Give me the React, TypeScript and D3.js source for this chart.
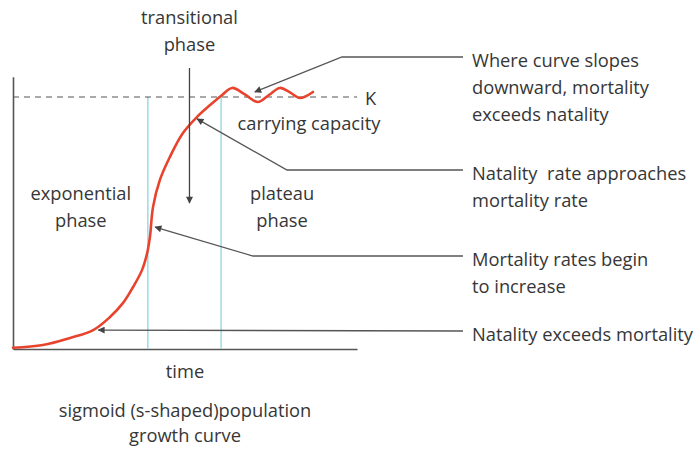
import React, { useEffect, useRef } from 'react';
import * as d3 from 'd3';

// population curve: time (0-100) vs population (% of K)
const curveTime = [0, 8.7, 16.6, 23.3, 28.2, 32.0, 34.9, 37.5, 39.0, 39.8, 40.7, 42.7, 45.6, 49.4, 53.5, 57.3, 60.8, 63.7, 67.4, 71.2, 74.4, 77.6, 80.5, 83.4, 87.2];
const curvePop = [0.5, 1.6, 4.4, 7.5, 12.7, 18.3, 24.6, 31.3, 38.1, 44.4, 56.3, 67.1, 76.2, 85.7, 92.1, 96.8, 100.8, 103.6, 101.0, 98.0, 100.8, 103.6, 101.8, 99.6, 102.0];
const carryingCapacity = 100;
const phaseBounds = [39.2, 60.5];
const transitionT = 51.3;

const phaseLabels = [
  { t: 20, lines: ['exponential', 'phase'] },
  { t: 78.5, lines: ['plateau', 'phase'] },
];

// callouts on the right, pointing at the curve
const calloutText = [
  ['Where curve slopes', 'downward, mortality', 'exceeds natality'],
  ['Natality  rate approaches', 'mortality rate'],
  ['Mortality rates begin', 'to increase'],
  ['Natality exceeds mortality'],
];
const calloutTargetT = [70.3, 53.5, 41.3, 24.8];
const calloutTargetN = [102, 91.3, 48.4, 7.5];

const W = 700;
const H = 449;
const FONT = '"Open Sans", sans-serif';
const TEXT = '#363636';

export default function App() {
  const ref = useRef<SVGSVGElement>(null);

  useEffect(() => {
    const svg = d3.select(ref.current);
    svg.selectAll('*').remove();

    const x = d3.scaleLinear().domain([0, 100]).range([13, 357]);
    const y = d3.scaleLinear().domain([0, carryingCapacity]).range([349, 97]);

    const defs = svg.append('defs');
    defs
      .append('marker')
      .attr('id', 'arr')
      .attr('viewBox', '0 0 10 10')
      .attr('refX', 9)
      .attr('refY', 5)
      .attr('markerWidth', 11)
      .attr('markerHeight', 7)
      .attr('markerUnits', 'userSpaceOnUse')
      .attr('orient', 'auto')
      .append('path')
      .attr('d', 'M0,0L10,5L0,10z')
      .attr('fill', '#444');

    // axes, no ticks
    svg
      .append('g')
      .attr('transform', `translate(0,${y(0)})`)
      .call(d3.axisBottom(x).tickValues([]).tickSizeOuter(0))
      .select('.domain')
      .attr('stroke', '#555')
      .attr('stroke-width', 1.6);
    svg
      .append('g')
      .attr('transform', `translate(${x(0)},0)`)
      .call(
        d3
          .axisLeft(d3.scaleLinear().domain([0, 108]).range([y(0), y(108)]))
          .tickValues([])
          .tickSizeOuter(0)
      )
      .select('.domain')
      .attr('stroke', '#555')
      .attr('stroke-width', 1.6);

    // phase boundaries
    svg
      .selectAll('.bound')
      .data(phaseBounds)
      .enter()
      .append('line')
      .attr('x1', d => x(d))
      .attr('x2', d => x(d))
      .attr('y1', y(carryingCapacity))
      .attr('y2', y(0))
      .attr('stroke', '#92d9e6')
      .attr('stroke-width', 1.4);

    // carrying capacity
    svg
      .append('line')
      .attr('x1', x(0))
      .attr('x2', x(100))
      .attr('y1', y(carryingCapacity))
      .attr('y2', y(carryingCapacity))
      .attr('stroke', '#555')
      .attr('stroke-width', 1.2)
      .attr('stroke-dasharray', '6,5');
    svg
      .append('text')
      .attr('x', x(100) + 8)
      .attr('y', y(carryingCapacity) + 8)
      .text('K');
    svg
      .append('text')
      .attr('x', 309)
      .attr('y', 130)
      .attr('text-anchor', 'middle')
      .text('carrying capacity');

    // the curve
    const pts = curveTime.map((t, i) => [t, curvePop[i]] as [number, number]);
    svg
      .append('path')
      .datum(pts)
      .attr('fill', 'none')
      .attr('stroke', '#e8432c')
      .attr('stroke-width', 2.6)
      .attr('stroke-linecap', 'round')
      .attr(
        'd',
        d3
          .line()
          .x(d => x(d[0]))
          .y(d => y(d[1]))
          .curve(d3.curveCatmullRom.alpha(0.5))
      );

    // phase labels
    phaseLabels.forEach(p => {
      p.lines.forEach((s, i) => {
        svg
          .append('text')
          .attr('x', x(p.t) - 1)
          .attr('y', 200 + i * 27)
          .attr('text-anchor', 'middle')
          .text(s);
      });
    });

    // transitional phase arrow
    ['transitional', 'phase'].forEach((s, i) => {
      svg
        .append('text')
        .attr('x', x(transitionT))
        .attr('y', 24 + i * 27)
        .attr('text-anchor', 'middle')
        .text(s);
    });
    svg
      .append('line')
      .attr('x1', x(transitionT))
      .attr('x2', x(transitionT))
      .attr('y1', 68)
      .attr('y2', 203)
      .attr('stroke', '#444')
      .attr('stroke-width', 1.3)
      .attr('marker-end', 'url(#arr)');

    // callouts
    const rowY = [57, 170, 256, 331];
    const elbowX = [342, 287, 253, null];
    calloutText.forEach((lines, i) => {
      const tx = x(calloutTargetT[i]);
      const ty = y(calloutTargetN[i]);
      const ex = elbowX[i];
      const d = ex === null
        ? `M463,${rowY[i]}L${tx},${ty}`
        : `M463,${rowY[i]}L${ex},${rowY[i]}L${tx},${ty}`;
      svg
        .append('path')
        .attr('d', d)
        .attr('fill', 'none')
        .attr('stroke', '#555')
        .attr('stroke-width', 1.3)
        .attr('marker-end', 'url(#arr)');
      lines.forEach((s, j) => {
        svg
          .append('text')
          .attr('x', 472)
          .attr('y', rowY[i] + 10 + j * 27)
          .style('white-space', 'pre')
          .text(s);
      });
    });

    // bottom labels
    [['time', 378], ['sigmoid (s-shaped)population', 417], ['growth curve', 442]].forEach(
      ([s, yy]) => {
        svg
          .append('text')
          .attr('x', 185)
          .attr('y', yy as number)
          .attr('text-anchor', 'middle')
          .text(s as string);
      }
    );

    svg.selectAll('text').attr('font-family', FONT).attr('font-size', 18.3).attr('fill', TEXT);
  }, []);

  return (
    <svg
      ref={ref}
      width={W}
      height={H}
      style={{ position: 'absolute', left: 0, top: 0, background: '#fff' }}
    />
  );
}
